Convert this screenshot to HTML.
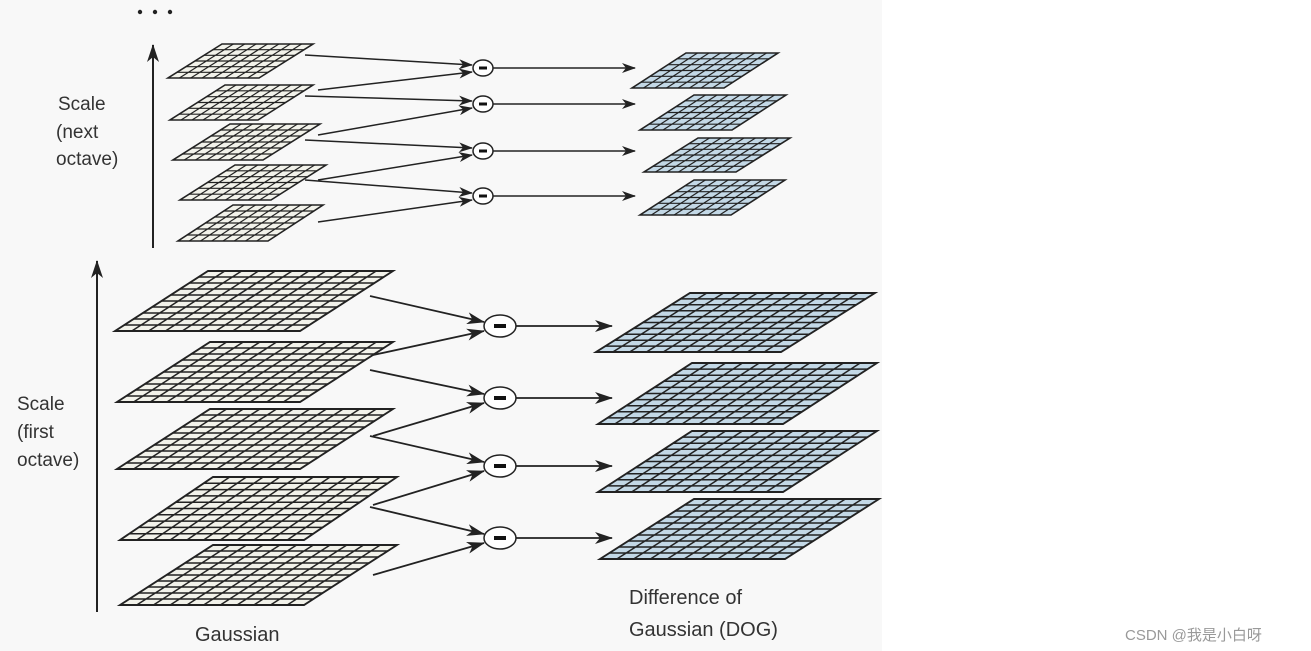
<!DOCTYPE html>
<html><head><meta charset="utf-8"><style>
body{margin:0;background:#fff}
svg{display:block}
text{font-family:"Liberation Sans",sans-serif;fill:#333}
</style></head><body>
<svg id="s" width="1311" height="651" xmlns="http://www.w3.org/2000/svg">
<defs><marker id="a" markerWidth="14" markerHeight="10" refX="13" refY="5" orient="auto" markerUnits="userSpaceOnUse"><path d="M0,0 L14,5 L0,10 L4,5z" fill="#222"/></marker>
<marker id="b" markerWidth="18" markerHeight="12" refX="17" refY="6" orient="auto" markerUnits="userSpaceOnUse"><path d="M0,0 L18,6 L0,12 L5,6z" fill="#222"/></marker></defs>
<rect x="0" y="0" width="882" height="651" fill="#f8f8f8"/>
<g id="g"></g>
<circle cx="140" cy="12" r="2.2" fill="#222"/><circle cx="155" cy="12" r="2.2" fill="#222"/><circle cx="170" cy="12" r="2.2" fill="#222"/>
<line x1="153" y1="248" x2="153" y2="45" stroke="#222" stroke-width="2" marker-end="url(#b)"/>
<line x1="97" y1="612" x2="97" y2="261" stroke="#222" stroke-width="2" marker-end="url(#b)"/>
<text x="58" y="110" font-size="19">Scale</text>
<text x="56" y="138" font-size="19">(next</text>
<text x="56" y="165" font-size="19">octave)</text>
<text x="17" y="410" font-size="19">Scale</text>
<text x="17" y="438" font-size="19">(first</text>
<text x="17" y="466" font-size="19">octave)</text>
<text x="195" y="641" font-size="20">Gaussian</text>
<text x="629" y="604" font-size="20">Difference of</text>
<text x="629" y="636" font-size="20">Gaussian (DOG)</text>
<text x="1125" y="640" font-size="15" fill="#999" style="fill:#999;font-family:'Liberation Sans','Noto Sans CJK SC',sans-serif">CSDN @我是小白呀</text>
</svg>
<script>
var g=document.getElementById('g'),NS='http://www.w3.org/2000/svg';
function el(t,a){var e=document.createElementNS(NS,t);for(var k in a)e.setAttribute(k,a[k]);g.appendChild(e);return e;}
function par(tl,top,tr,bl,bot,c,r,fill,sw){var sk=tl-bl,br=tr-sk;
el('path',{d:'M'+tl+','+top+'L'+tr+','+top+'L'+br+','+bot+'L'+bl+','+bot+'Z',fill:fill,stroke:'#222','stroke-width':sw+0.4});
var d='';for(var i=1;i<r;i++){var f=i/r,y=top+(bot-top)*f,x1=tl-sk*f,x2=tr-sk*f;d+='M'+x1+','+y+'L'+x2+','+y;}
for(var j=1;j<c;j++){var f=j/c;d+='M'+(tl+(tr-tl)*f)+','+top+'L'+(bl+(br-bl)*f)+','+bot;}
el('path',{d:d,stroke:'#222','stroke-width':sw,fill:'none'});}
var G='#f2f2ea',D='#c3d8e6';
[[271,331,115,208,393],[342,402,117,210,393],[409,469,117,210,393],[477,540,120,213,397],[545,605,120,213,397]].forEach(function(p){par(p[3],p[0],p[4],p[2],p[1],11,10,G,1.5)});
[[293,352,596,690,875],[363,424,598,692,877],[431,492,598,692,877],[499,559,600,694,879]].forEach(function(p){par(p[3],p[0],p[4],p[2],p[1],11,10,D,1.5)});
[[44,78,168,222,313],[85,120,170,225,313],[124,160,173,230,320],[165,200,180,235,326],[205,241,178,233,323]].forEach(function(p){par(p[3],p[0],p[4],p[2],p[1],8,6,G,1.2)});
[[53,88,632,686,778],[95,130,640,694,786],[138,172,644,698,790],[180,215,640,694,785]].forEach(function(p){par(p[3],p[0],p[4],p[2],p[1],8,6,D,1.2)});
function ar(x1,y1,x2,y2,m,w){el('line',{x1:x1,y1:y1,x2:x2,y2:y2,stroke:'#222','stroke-width':w,'marker-end':'url(#'+m+')'});}
function mn(cx,cy,rx,ry,bw,bh){el('ellipse',{cx:cx,cy:cy,rx:rx,ry:ry,fill:'#fff',stroke:'#222','stroke-width':1.5});el('rect',{x:cx-bw/2,y:cy-bh/2,width:bw,height:bh,fill:'#111'});}
var L=[326,398,466,538],Ls=[[296,355],[370,436],[436,505],[507,575]];
L.forEach(function(cy,i){ar(370,Ls[i][0],484,cy-4,'b',1.8);ar(373,Ls[i][1],484,cy+5,'b',1.8);mn(500,cy,16,11,12,4);ar(516,cy,612,cy,'b',1.8);});
var U=[68,104,151,196],Us=[[55,90],[96,135],[140,180],[180,222]];
U.forEach(function(cy,i){ar(305,Us[i][0],472,cy-3,'a',1.5);ar(318,Us[i][1],472,cy+4,'a',1.5);mn(483,cy,10,8,8,3);ar(493,cy,635,cy,'a',1.5);});
</script>
</body></html>
